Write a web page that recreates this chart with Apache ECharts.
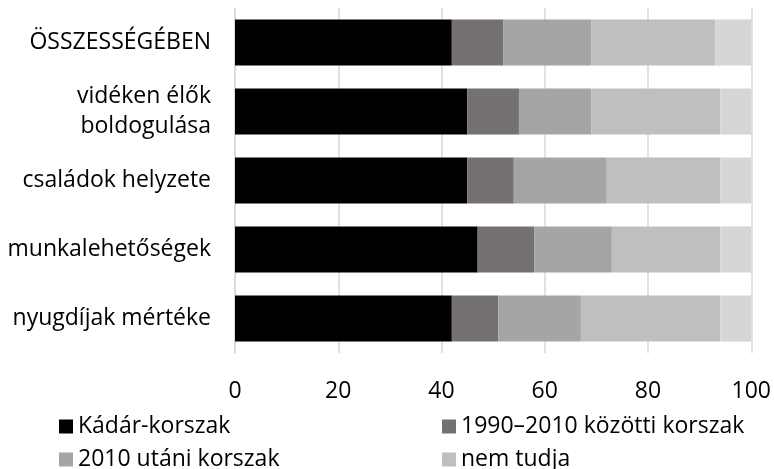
<!DOCTYPE html>
<html>
<head>
<meta charset="utf-8">
<script src="https://cdn.jsdelivr.net/npm/echarts@6/dist/echarts.min.js"></script>
<style>
  html, body { margin: 0; padding: 0; background: #fff; }
  #chart { width: 774px; height: 469px; }
</style>
</head>
<body>
<div id="chart"></div>
<script>
const categories = [
  'ÖSSZESSÉGÉBEN',
  'vidéken élők\nboldogulása',
  'családok helyzete',
  'munkalehetőségek',
  'nyugdíjak mértéke',
];
const kadar = [42, 45, 45, 47, 42];
const between = [10, 10, 9, 11, 9];
const after2010 = [17, 14, 18, 15, 16];
const dontKnow = [24, 25, 22, 21, 27];
const noAnswer = [7, 6, 6, 6, 6];
const xTicks = [0, 20, 40, 60, 80, 100];

const font = 'Open Sans';
const fs = 23;
const chart = echarts.init(document.getElementById('chart'));

const mkSeries = (name, data, color) => ({
  name,
  type: 'bar',
  stack: 'total',
  barCategoryGap: '33%',
  itemStyle: { color },
  data,
});

// each legend entry placed on its own, two columns by two rows
const legendItem = (name, left, top) => ({
  data: [name],
  left,
  top,
  itemWidth: 14,
  itemHeight: 14,
  itemGap: 0,
  icon: 'rect',
  padding: 0,
  textStyle: { fontFamily: font, fontSize: fs, color: '#000', padding: [0, 0, 0, 0] },
});

chart.setOption({
  animation: false,
  textStyle: { fontFamily: font },
  grid: { left: 235, right: 22, top: 8, bottom: 116 },
  legend: [
    legendItem('Kádár-korszak', 59, 415),
    legendItem('1990–2010 közötti korszak', 442, 415),
    legendItem('2010 utáni korszak', 59, 448),
    legendItem('nem tudja', 442, 448),
  ],
  xAxis: {
    type: 'value',
    min: xTicks[0],
    max: xTicks[xTicks.length - 1],
    interval: 20,
    axisLine: { show: false },
    axisTick: { show: false },
    splitLine: { lineStyle: { color: '#d9d9d9', width: 1.5 } },
    axisLabel: { fontFamily: font, fontSize: fs, color: '#000', margin: 27 },
  },
  yAxis: {
    type: 'category',
    data: categories,
    inverse: true,
    axisLine: { lineStyle: { color: '#d9d9d9', width: 1.5 } },
    axisTick: { show: false },
    axisLabel: {
      fontFamily: font,
      fontSize: fs,
      color: '#000',
      margin: 24,
      lineHeight: 30,
      align: 'right',
    },
  },
  series: [
    mkSeries('Kádár-korszak', kadar, '#000000'),
    mkSeries('1990–2010 közötti korszak', between, '#767171'),
    mkSeries('2010 utáni korszak', after2010, '#a5a5a5'),
    mkSeries('nem tudja', dontKnow, '#bfbfbf'),
    mkSeries('nincs válasz', noAnswer, '#d6d6d6'),
  ],
});
</script>
</body>
</html>
